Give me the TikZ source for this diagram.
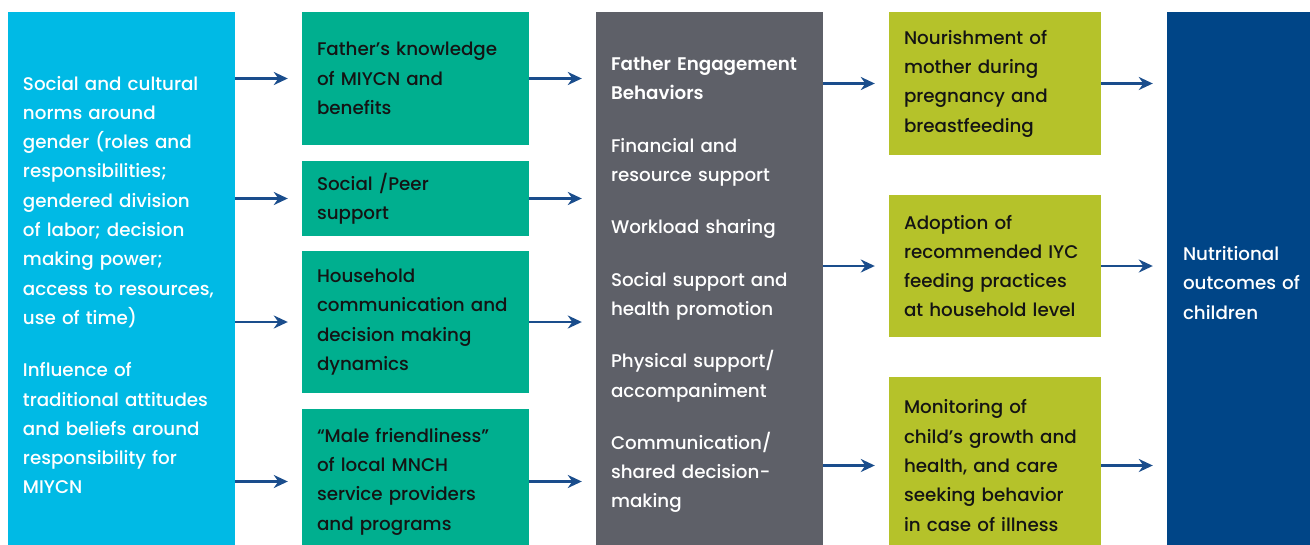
\documentclass[tikz,border=0pt]{standalone}
\usepackage{fontspec}
\setmainfont{Poppins}[UprightFont=* Medium, BoldFont=* SemiBold]
\usetikzlibrary{arrows.meta}
\definecolor{cyanbox}{HTML}{00BAE5}
\definecolor{greenbox}{HTML}{00AF8F}
\definecolor{greybox}{HTML}{5E6068}
\definecolor{limebox}{HTML}{B5C22A}
\definecolor{navybox}{HTML}{004587}
\definecolor{arrowblue}{HTML}{1A4D8C}
\definecolor{inkblack}{HTML}{141414}
\newcommand\nb[1]{\mbox{#1}}
\tikzset{
  box/.style={rectangle, inner xsep=15pt, inner ysep=0pt, align=left, anchor=center,
    font=\fontsize{18.3}{29.3}\selectfont},
  arr/.style={draw=arrowblue, line width=2.6pt, -{Stealth[length=14pt,width=13pt]}, shorten >=14pt}
}
\begin{document}
\begin{tikzpicture}[x=1pt,y=-1pt]
\useasboundingbox (0,0) rectangle (1310,544);
\clip (0,0) rectangle (1310,544);
% column 1
\node[box, fill=cyanbox, text=white, text width=197pt, minimum height=546pt] (c1) at (121.5,285)
  {\nb{Social and cultural}\\\nb{norms around}\\\nb{gender (roles and}\\\nb{responsibilities;}\\\nb{gendered division}\\\nb{of labor; decision}\\\nb{making power;}\\\nb{access to resources,}\\\nb{use of time)}\\[23pt]\nb{Influence of}\\\nb{traditional attitudes}\\\nb{and beliefs around}\\\nb{responsibility for}\\\nb{MIYCN}};
% column 2
\node[box, fill=greenbox, text=inkblack, text width=197pt, minimum height=133pt] (g1) at (415.5,78.5)
  {\nb{Father’s knowledge}\\\nb{of MIYCN and}\\\nb{benefits}};
\node[box, fill=greenbox, text=inkblack, text width=197pt, minimum height=75pt] (g2) at (415.5,198.5)
  {\nb{Social /Peer}\\\nb{support}};
\node[box, fill=greenbox, text=inkblack, text width=197pt, minimum height=142pt] (g3) at (415.5,322)
  {\nb{Household}\\\nb{communication and}\\\nb{decision making}\\\nb{dynamics}};
\node[box, fill=greenbox, text=inkblack, text width=197pt, minimum height=145pt] (g4) at (415.5,481.5)
  {\nb{“Male friendliness”}\\\nb{of local MNCH}\\\nb{service providers}\\\nb{and programs}};
% column 3
\node[box, fill=greybox, text=white, text width=197pt, minimum height=546pt] (c3) at (709.5,285)
  {\nb{\textbf{Father Engagement}}\\\nb{\textbf{Behaviors}}\\[23pt]\nb{Financial and}\\\nb{resource support}\\[23pt]\nb{Workload sharing}\\[23pt]\nb{Social support and}\\\nb{health promotion}\\[23pt]\nb{Physical support/}\\\nb{accompaniment}\\[23pt]\nb{Communication/}\\\nb{shared decision-}\\\nb{making}};
% column 4
\node[box, fill=limebox, text=inkblack, text width=182pt, minimum height=143pt] (y1) at (995,83.5)
  {\nb{Nourishment of}\\\nb{mother during}\\\nb{pregnancy and}\\\nb{breastfeeding}};
\node[box, fill=limebox, text=inkblack, text width=182pt, minimum height=142pt] (y2) at (995,266)
  {\nb{Adoption of}\\\nb{recommended IYC}\\\nb{feeding practices}\\\nb{at household level}};
\node[box, fill=limebox, text=inkblack, text width=182pt, minimum height=177pt] (y3) at (995,465.5)
  {\nb{Monitoring of}\\\nb{child’s growth and}\\\nb{health, and care}\\\nb{seeking behavior}\\\nb{in case of illness}};
% column 5
\node[box, fill=navybox, text=white, text width=122pt, minimum height=542pt, inner xsep=16pt] (c5) at (1244,283)
  {\nb{Nutritional}\\\nb{outcomes of}\\\nb{children}};
% arrows
\foreach \g in {g1,g2,g3,g4}{
  \draw[arr] (c1.east |- \g.west) -- (\g.west);
  \draw[arr] (\g.east) -- (c3.west |- \g.east);
}
\foreach \y in {y1,y2,y3}{
  \draw[arr] (c3.east |- \y.west) -- (\y.west);
  \draw[arr] (\y.east) -- (c5.west |- \y.east);
}
\end{tikzpicture}
\end{document}
